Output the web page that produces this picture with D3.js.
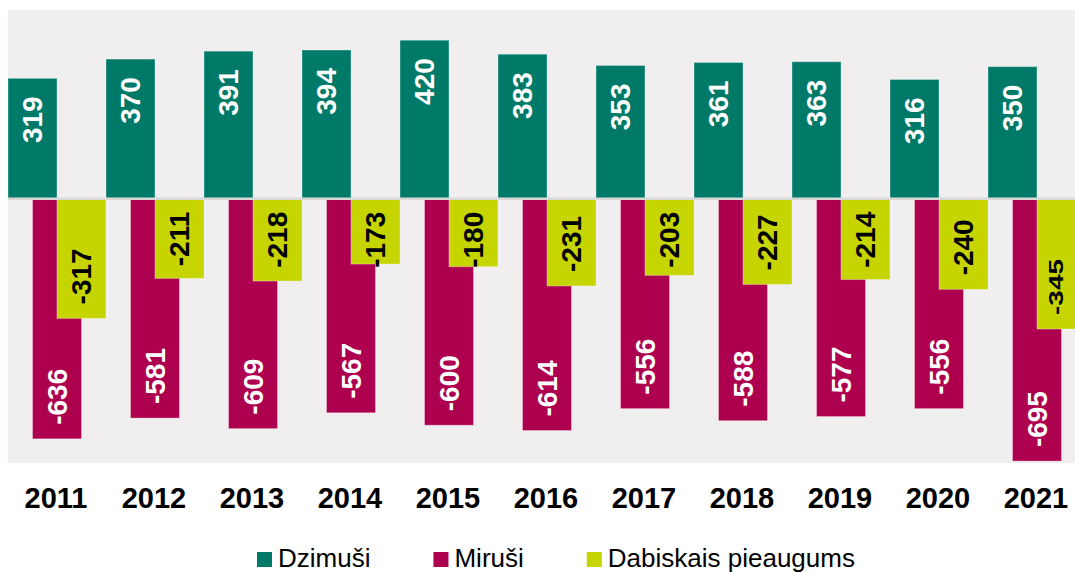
<!DOCTYPE html>
<html>
<head>
<meta charset="utf-8">
<script src="https://cdn.jsdelivr.net/npm/d3@7"></script>
<style>
  html, body { margin: 0; padding: 0; background: #ffffff; }
  svg { display: block; font-family: "Liberation Sans", Arial, sans-serif; }
</style>
</head>
<body>
<svg id="chart" width="1075" height="572"></svg>
<script>
const years = ["2011","2012","2013","2014","2015","2016","2017","2018","2019","2020","2021"];
const dzimusi = [319, 370, 391, 394, 420, 383, 353, 361, 363, 316, 350];
const mirusi = [-636, -581, -609, -567, -600, -614, -556, -588, -577, -556, -695];
const pieaugums = [-317, -211, -218, -173, -180, -231, -203, -227, -214, -240, -345];
const seriesNames = ["Dzimuši", "Miruši", "Dabiskais pieaugums"];
const colors = ["#007a68", "#ad004f", "#c6d400"];
const labelColors = ["#ffffff", "#ffffff", "#000000"];
const yDomain = [-700, 500];

const W = 1075;
const svg = d3.select("#chart");
const plot = { left: 8, right: 1086, top: 10, bottom: 463 };

const x = d3.scaleBand().domain(years).range([plot.left, plot.right]).paddingInner(0).paddingOuter(0);
const y = d3.scaleLinear().domain(yDomain).range([plot.bottom, plot.top]);
const bw = x.bandwidth();
const barW = bw / 2;
const offsets = [0, bw / 4, bw / 2];

svg.append("rect")
  .attr("x", plot.left).attr("y", plot.top)
  .attr("width", plot.right - plot.left).attr("height", plot.bottom - plot.top)
  .attr("fill", "#f0eeef");

const allSeries = [dzimusi, mirusi, pieaugums];
const y0 = y(0);

allSeries.forEach((vals, si) => {
  const g = svg.append("g");
  g.selectAll("rect").data(vals).join("rect")
    .attr("x", (d, i) => x(years[i]) + offsets[si])
    .attr("y", d => Math.min(y(d), y0))
    .attr("width", barW)
    .attr("height", d => Math.abs(y(d) - y0))
    .attr("fill", colors[si])
    .attr("stroke", "rgba(255,255,255,0.35)")
    .attr("stroke-width", 1);
});

// zero line
svg.append("line")
  .attr("x1", plot.left).attr("x2", plot.right)
  .attr("y1", y0).attr("y2", y0)
  .attr("stroke", "#d9d9d9").attr("stroke-width", 2.5);

// data labels
const fs = 28;
const capW = 0.716 * fs;
allSeries.forEach((vals, si) => {
  const g = svg.append("g");
  vals.forEach((v, i) => {
    const bx0 = x(years[i]) + offsets[si];
    const bx1 = Math.min(bx0 + barW, W);
    const visW = bx1 - bx0;
    const cx = (bx0 + bx1) / 2;
    let sc = 1;
    if (visW < barW - 0.5) sc = Math.max(0.3, (visW - 24) / capW);
    const t = g.append("text")
      .attr("font-size", fs)
      .attr("font-weight", "bold")
      .attr("fill", labelColors[si])
      .attr("dy", "0.35em")
      .text(v);
    const L = t.node().getComputedTextLength();
    let py;
    if (v >= 0) {
      py = y(v) + 18;
      t.attr("text-anchor", "end");
    } else {
      py = y(v) - 14;
      if (py - L < y0 + 13) py = y0 + 13 + L;
      t.attr("text-anchor", "start");
    }
    t.attr("transform", `translate(${cx},${py}) rotate(-90) scale(1,${sc})`);
  });
});

// x axis labels
svg.append("g").selectAll("text").data(years).join("text")
  .attr("x", d => x(d) + bw / 2 - 1)
  .attr("y", 508)
  .attr("text-anchor", "middle")
  .attr("font-size", 29)
  .attr("font-weight", "bold")
  .attr("fill", "#000")
  .text(d => d);

// legend
const legend = svg.append("g");
let lx = 257;
seriesNames.forEach((name, i) => {
  legend.append("rect")
    .attr("x", lx).attr("y", 552)
    .attr("width", 15).attr("height", 15)
    .attr("fill", colors[i]);
  const t = legend.append("text")
    .attr("x", lx + 21).attr("y", 567)
    .attr("font-size", 26)
    .attr("fill", "#000")
    .text(name);
  lx += 21 + t.node().getComputedTextLength() + 63;
});
</script>
</body>
</html>
